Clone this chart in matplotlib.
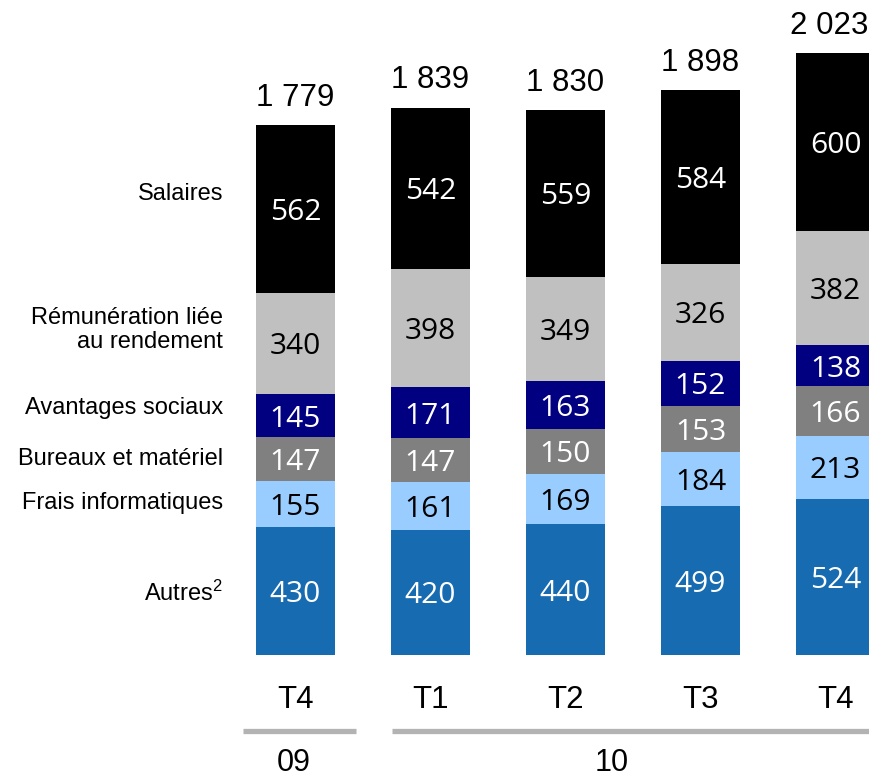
import matplotlib
matplotlib.use("Agg")
import matplotlib.pyplot as plt
import numpy as np

# Quarterly expense breakdown (stacked from bottom to top)
quarters = ["T4", "T1", "T2", "T3", "T4"]
years = ["09", "10"]
categories = ["Autres$^{2}$", "Frais informatiques", "Bureaux et matériel",
              "Avantages sociaux", "Rémunération liée\nau rendement", "Salaires"]
autres = [430, 420, 440, 499, 524]
frais_info = [155, 161, 169, 184, 213]
bureaux = [147, 147, 150, 153, 166]
avantages = [145, 171, 163, 152, 138]
remuneration = [340, 398, 349, 326, 382]
salaires = [562, 542, 559, 584, 600]
totals = [1779, 1839, 1830, 1898, 2023]

series = [autres, frais_info, bureaux, avantages, remuneration, salaires]
colors = ["#176bb1", "#99ccff", "#808080", "#000080", "#c0c0c0", "#000000"]
text_colors = ["white", "black", "white", "white", "black", "white"]

plt.rcParams["mathtext.fontset"] = "custom"
plt.rcParams["mathtext.rm"] = "Liberation Sans"
plt.rcParams["mathtext.it"] = "Liberation Sans"
plt.rcParams["mathtext.default"] = "regular"

W, H, DPI = 870, 780, 100
fig = plt.figure(figsize=(W / DPI, H / DPI), dpi=DPI)
ax = fig.add_axes([0, 0, 1, 1])
ax.set_axis_off()

# Pixel layout helpers: bar pitch, first bar centre, baseline and vertical scale
pitch = 135.0
x0_px = 295.5
base_px = 655.0
scale = 0.2977  # pixels per unit

ax.set_xlim(-x0_px / pitch, (W - x0_px) / pitch)
ax.set_ylim(-(H - base_px) / scale, base_px / scale)


def px_x(px):
    return (px - x0_px) / pitch


def px_y(py):
    return (base_px - py) / scale


x = np.arange(len(quarters))
bar_w = 79 / pitch
bottom = np.zeros(len(quarters))
num_font = ["Open Sans", "DejaVu Sans"]
arial = ["Liberation Sans", "DejaVu Sans"]

for vals, col, tcol in zip(series, colors, text_colors):
    vals = np.array(vals, dtype=float)
    ax.bar(x, vals, bar_w, bottom=bottom, color=col, linewidth=0)
    for xi, b, v in zip(x, bottom, vals):
        ax.text(xi, b + v / 2, f"{int(v)}", ha="center", va="center_baseline",
                color=tcol, fontsize=21.5, family=num_font)
    bottom += vals

# Totals above the bars (the last one is nudged left to stay on the canvas)
for i, (xi, t) in enumerate(zip(x, totals)):
    label = f"{t:,}".replace(",", " ")
    dx = -4.5 if i == len(totals) - 1 else 0
    ax.annotate(label, (xi, t), xytext=(dx, 19.5), textcoords="offset points",
                ha="center", va="center", fontsize=22.5, family=arial, color="black")

# Category labels on the left
label_y_px = [593, 503, 459, 408, 330, 194]
for name, py in zip(categories, label_y_px):
    ax.text(px_x(223), px_y(py), name, ha="right", va="center", fontsize=17,
            family=arial, color="black", linespacing=1.15)

# Quarter labels
for xi, q in zip(x, quarters):
    ax.text(xi, px_y(700), q, ha="center", va="center", fontsize=22.5,
            family=arial, color="black")

# Year brackets
line_kw = dict(color="#b3b3b3", linewidth=3.8, solid_capstyle="butt")
ax.plot([px_x(243), px_x(356)], [px_y(731)] * 2, **line_kw)
ax.plot([px_x(392), px_x(900)], [px_y(731)] * 2, **line_kw)
ax.text(px_x(294), px_y(763), years[0], ha="center", va="center", fontsize=22,
        family=arial, color="black")
ax.text(px_x(612), px_y(763), years[1], ha="center", va="center", fontsize=22,
        family=arial, color="black")

fig.savefig("out.png", dpi=DPI)
